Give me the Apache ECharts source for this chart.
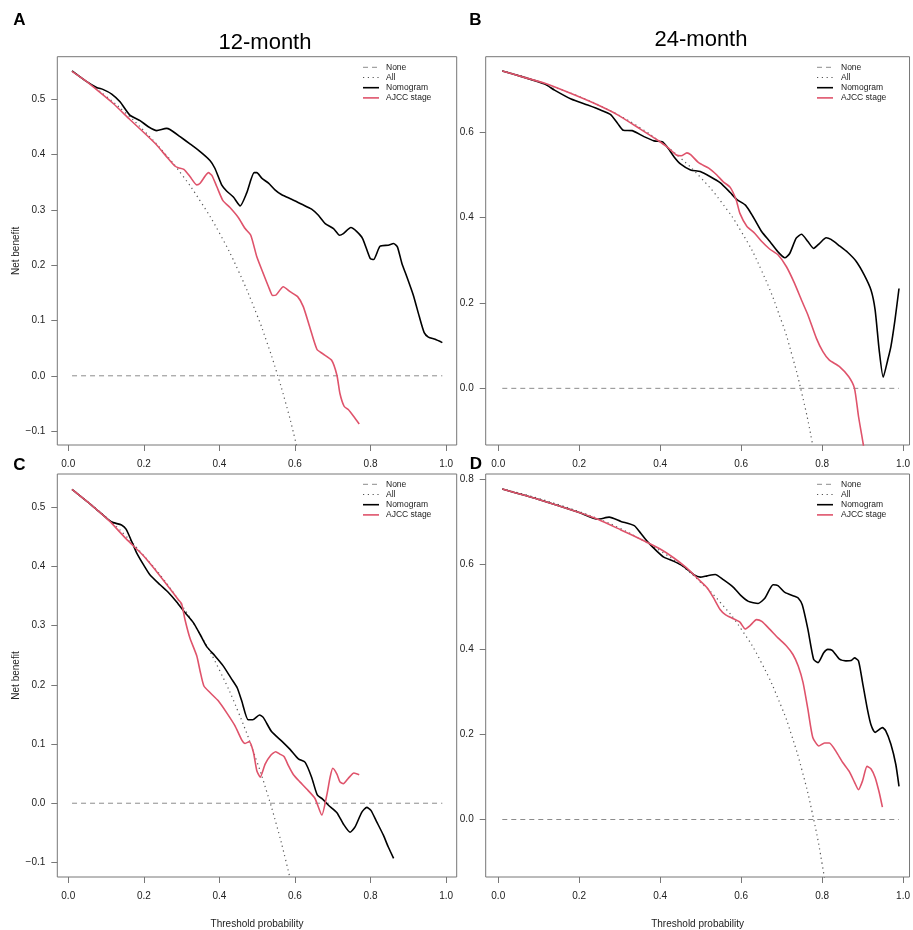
<!DOCTYPE html>
<html lang="en">
<head>
<meta charset="UTF-8"/>
<title>Decision curves</title>
<script src="https://cdn.jsdelivr.net/npm/echarts@6.0.0/dist/echarts.min.js"></script>
<style>
  body { margin: 0; background: #fff; }
  #main { width: 913px; height: 930px; }
</style>
</head>
<body>
<div id="main"></div>
<script type="text/javascript">
// tick labels
var thresholdTicks = [0, 0.2, 0.4, 0.6, 0.8, 1.0];
var yTicksA = [-0.1, 0, 0.1, 0.2, 0.3, 0.4, 0.5];
var yTicksB = [0, 0.2, 0.4, 0.6];
var yTicksC = [-0.1, 0, 0.1, 0.2, 0.3, 0.4, 0.5];
var yTicksD = [0, 0.2, 0.4, 0.6, 0.8];
var legendNames = ['None', 'All', 'Nomogram', 'AJCC stage'];
var panelTitles = ['12-month', '24-month'];
var panelLetters = ['A', 'B', 'C', 'D'];

// treat none
var noneLine = [[0.01, 0], [0.99, 0]];

// treat all  [threshold, net benefit]
var allA = [[0.01,0.550],[0.05,0.531],[0.10,0.505],[0.15,0.476],[0.20,0.443],[0.25,0.406],[0.30,0.364],[0.35,0.315],[0.40,0.258],[0.45,0.190],[0.50,0.109],[0.525,0.062],[0.55,0.010],[0.575,-0.048],[0.60,-0.114],[0.625,-0.188]];
var allB = [[0.01,0.744],[0.05,0.734],[0.10,0.719],[0.15,0.702],[0.20,0.684],[0.25,0.663],[0.30,0.639],[0.35,0.611],[0.40,0.578],[0.45,0.540],[0.50,0.494],[0.55,0.438],[0.60,0.368],[0.65,0.277],[0.70,0.157],[0.725,0.080],[0.75,-0.012],[0.775,-0.124],[0.80,-0.265]];
var allC = [[0.01,0.530],[0.05,0.510],[0.10,0.483],[0.15,0.453],[0.20,0.418],[0.25,0.380],[0.30,0.335],[0.35,0.284],[0.40,0.225],[0.45,0.154],[0.50,0.069],[0.525,0.020],[0.55,-0.034],[0.575,-0.095],[0.60,-0.163]];
var allD = [[0.01,0.777],[0.05,0.768],[0.10,0.755],[0.15,0.740],[0.20,0.724],[0.25,0.706],[0.30,0.685],[0.35,0.660],[0.40,0.632],[0.45,0.599],[0.50,0.558],[0.55,0.509],[0.60,0.448],[0.65,0.369],[0.70,0.264],[0.725,0.197],[0.75,0.117],[0.775,0.019],[0.80,-0.104],[0.825,-0.262]];

// nomogram
var nomoA = [[0.01,0.551],[0.05,0.531],[0.075,0.521],[0.093,0.517],[0.115,0.509],[0.137,0.495],[0.163,0.471],[0.19,0.461],[0.212,0.45],[0.234,0.443],[0.26,0.447],[0.269,0.445],[0.296,0.432],[0.322,0.419],[0.349,0.405],[0.375,0.389],[0.388,0.375],[0.406,0.345],[0.419,0.334],[0.437,0.323],[0.455,0.307],[0.472,0.33],[0.492,0.367],[0.499,0.367],[0.512,0.357],[0.53,0.348],[0.547,0.336],[0.565,0.327],[0.591,0.319],[0.618,0.31],[0.644,0.301],[0.662,0.29],[0.68,0.275],[0.702,0.266],[0.718,0.254],[0.728,0.257],[0.748,0.268],[0.763,0.261],[0.779,0.248],[0.799,0.212],[0.808,0.21],[0.825,0.234],[0.847,0.236],[0.861,0.239],[0.871,0.233],[0.883,0.203],[0.896,0.179],[0.913,0.146],[0.929,0.107],[0.942,0.078],[0.953,0.07],[0.971,0.066],[0.99,0.06]];
var nomoB = [[0.01,0.744],[0.06,0.73],[0.115,0.713],[0.139,0.699],[0.18,0.678],[0.221,0.664],[0.254,0.652],[0.277,0.642],[0.295,0.621],[0.309,0.605],[0.331,0.604],[0.36,0.59],[0.385,0.58],[0.405,0.578],[0.417,0.566],[0.434,0.543],[0.45,0.526],[0.475,0.512],[0.499,0.508],[0.524,0.496],[0.548,0.482],[0.573,0.459],[0.589,0.443],[0.61,0.43],[0.622,0.414],[0.634,0.395],[0.651,0.367],[0.671,0.344],[0.691,0.32],[0.708,0.306],[0.72,0.316],[0.736,0.352],[0.749,0.361],[0.765,0.344],[0.779,0.328],[0.794,0.34],[0.81,0.353],[0.822,0.349],[0.843,0.334],[0.863,0.319],[0.884,0.298],[0.904,0.266],[0.921,0.23],[0.931,0.184],[0.941,0.09],[0.951,0.026],[0.962,0.066],[0.97,0.098],[0.98,0.16],[0.99,0.234]];
var nomoC = [[0.01,0.53],[0.066,0.501],[0.106,0.479],[0.119,0.474],[0.141,0.47],[0.153,0.463],[0.168,0.442],[0.181,0.423],[0.199,0.403],[0.216,0.386],[0.243,0.369],[0.265,0.356],[0.287,0.34],[0.309,0.322],[0.331,0.305],[0.349,0.285],[0.366,0.265],[0.388,0.249],[0.41,0.232],[0.432,0.21],[0.447,0.195],[0.459,0.173],[0.476,0.141],[0.488,0.141],[0.506,0.149],[0.516,0.145],[0.538,0.121],[0.565,0.105],[0.587,0.091],[0.609,0.075],[0.627,0.069],[0.644,0.044],[0.659,0.014],[0.673,0.007],[0.688,-0.003],[0.711,-0.016],[0.728,-0.035],[0.746,-0.049],[0.759,-0.04],[0.777,-0.015],[0.79,-0.007],[0.801,-0.012],[0.816,-0.031],[0.834,-0.054],[0.847,-0.074],[0.861,-0.093]];
var nomoD = [[0.01,0.777],[0.098,0.753],[0.2,0.722],[0.246,0.706],[0.274,0.711],[0.303,0.701],[0.336,0.691],[0.352,0.673],[0.368,0.654],[0.393,0.63],[0.409,0.617],[0.434,0.607],[0.458,0.595],[0.483,0.576],[0.499,0.57],[0.516,0.573],[0.536,0.576],[0.556,0.564],[0.581,0.546],[0.599,0.527],[0.618,0.513],[0.642,0.508],[0.659,0.521],[0.679,0.552],[0.691,0.55],[0.708,0.534],[0.732,0.525],[0.741,0.521],[0.751,0.505],[0.765,0.447],[0.779,0.377],[0.79,0.369],[0.804,0.392],[0.814,0.4],[0.825,0.398],[0.843,0.377],[0.859,0.373],[0.872,0.374],[0.88,0.38],[0.89,0.373],[0.9,0.322],[0.912,0.259],[0.921,0.222],[0.931,0.205],[0.949,0.216],[0.957,0.209],[0.97,0.177],[0.982,0.13],[0.99,0.078]];

// AJCC stage
var ajccA = [[0.01,0.55],[0.05,0.531],[0.075,0.517],[0.119,0.492],[0.163,0.463],[0.207,0.435],[0.234,0.417],[0.26,0.396],[0.282,0.379],[0.291,0.376],[0.306,0.373],[0.322,0.36],[0.34,0.345],[0.349,0.348],[0.371,0.367],[0.38,0.362],[0.393,0.342],[0.409,0.317],[0.428,0.304],[0.45,0.286],[0.468,0.266],[0.483,0.254],[0.499,0.215],[0.516,0.185],[0.53,0.161],[0.541,0.145],[0.55,0.146],[0.569,0.161],[0.587,0.152],[0.607,0.143],[0.622,0.125],[0.64,0.086],[0.658,0.048],[0.673,0.04],[0.697,0.028],[0.711,0.001],[0.719,-0.032],[0.73,-0.055],[0.741,-0.061],[0.755,-0.073],[0.77,-0.087]];
var ajccB = [[0.01,0.744],[0.06,0.73],[0.115,0.715],[0.18,0.691],[0.237,0.668],[0.295,0.641],[0.352,0.607],[0.393,0.582],[0.417,0.566],[0.44,0.547],[0.452,0.545],[0.466,0.552],[0.476,0.547],[0.495,0.529],[0.52,0.516],[0.54,0.5],[0.556,0.484],[0.573,0.471],[0.588,0.441],[0.597,0.41],[0.614,0.38],[0.634,0.363],[0.651,0.344],[0.671,0.326],[0.691,0.313],[0.712,0.285],[0.732,0.246],[0.749,0.207],[0.765,0.172],[0.786,0.117],[0.802,0.086],[0.818,0.066],[0.843,0.051],[0.866,0.027],[0.88,0],[0.89,-0.066],[0.902,-0.133],[0.91,-0.19]];
var ajccC = [[0.01,0.53],[0.066,0.501],[0.11,0.476],[0.154,0.446],[0.199,0.418],[0.243,0.384],[0.278,0.355],[0.291,0.344],[0.3,0.337],[0.309,0.31],[0.322,0.279],[0.34,0.249],[0.349,0.223],[0.359,0.198],[0.375,0.187],[0.397,0.173],[0.419,0.153],[0.441,0.131],[0.459,0.107],[0.468,0.101],[0.479,0.104],[0.49,0.086],[0.499,0.055],[0.508,0.044],[0.521,0.066],[0.536,0.081],[0.549,0.087],[0.56,0.083],[0.571,0.079],[0.583,0.063],[0.596,0.048],[0.613,0.036],[0.631,0.024],[0.653,0.008],[0.671,-0.02],[0.684,0.013],[0.693,0.044],[0.7,0.059],[0.711,0.049],[0.719,0.036],[0.728,0.033],[0.741,0.042],[0.756,0.051],[0.77,0.048]];
var ajccD = [[0.01,0.777],[0.098,0.753],[0.2,0.722],[0.246,0.706],[0.303,0.681],[0.352,0.659],[0.4,0.636],[0.434,0.615],[0.466,0.591],[0.491,0.568],[0.516,0.545],[0.532,0.521],[0.548,0.494],[0.561,0.482],[0.581,0.472],[0.597,0.464],[0.61,0.448],[0.622,0.456],[0.638,0.47],[0.651,0.466],[0.671,0.447],[0.691,0.427],[0.712,0.408],[0.728,0.388],[0.741,0.361],[0.753,0.322],[0.765,0.259],[0.777,0.193],[0.792,0.173],[0.806,0.18],[0.818,0.18],[0.835,0.159],[0.851,0.134],[0.867,0.113],[0.88,0.088],[0.89,0.07],[0.9,0.091],[0.911,0.125],[0.921,0.119],[0.931,0.099],[0.941,0.064],[0.949,0.029]];

var FONT = 'Liberation Sans, Arial, Helvetica, sans-serif';
var BOX = '#777';
var TXT = '#222';
var RED = '#DF536B';

var styles = [
    { color: '#8c8c8c', width: 1, type: [5, 4] },
    { color: '#555', width: 1.2, type: [1.2, 3.6] },
    { color: '#000', width: 1.6, type: 'solid' },
    { color: RED, width: 1.6, type: 'solid' }
];

// panel boxes
var panels = [
    { left: 57.3, top: 56.7, width: 399.4, height: 388.3, xMin: -0.029, xMax: 1.028, yMin: -0.125, yMax: 0.5765, yTicks: yTicksA, curves: [noneLine, allA, nomoA, ajccA], yName: true, xName: false },
    { left: 485.7, top: 56.7, width: 426.6, height: 388.3, xMin: -0.031, xMax: 1.016, yMin: -0.1328, yMax: 0.7773, yTicks: yTicksB, curves: [noneLine, allB, nomoB, ajccB], yName: false, xName: false },
    { left: 57.3, top: 474, width: 399.4, height: 404.3, xMin: -0.029, xMax: 1.028, yMin: -0.1246, yMax: 0.5561, yTicks: yTicksC, curves: [noneLine, allC, nomoC, ajccC], yName: true, xName: true },
    { left: 485.7, top: 474, width: 426.6, height: 404.3, xMin: -0.031, xMax: 1.016, yMin: -0.1352, yMax: 0.8125, yTicks: yTicksD, curves: [noneLine, allD, nomoD, ajccD], yName: false, xName: true }
];

function fmt(v) {
    return (v < 0 ? '\u2212' : '') + Math.abs(v).toFixed(1);
}

var grids = [], xAxes = [], yAxes = [], series = [], graphics = [];

panels.forEach(function (p, i) {
    grids.push({ left: p.left, top: p.top, width: p.width, height: p.height,
        show: true, borderColor: BOX, borderWidth: 1, backgroundColor: 'transparent' });
    xAxes.push({
        type: 'value', gridIndex: i, min: p.xMin, max: p.xMax, position: 'bottom',
        name: p.xName ? 'Threshold probability' : '', nameLocation: 'middle', nameGap: 42,
        nameTextStyle: { fontFamily: FONT, fontSize: 10, color: TXT },
        axisLine: { show: false, onZero: false }, splitLine: { show: false },
        axisTick: { show: true, customValues: thresholdTicks, length: 6, lineStyle: { color: BOX } },
        axisLabel: { customValues: thresholdTicks, formatter: fmt, fontFamily: FONT, fontSize: 10, color: TXT, margin: 14 }
    });
    yAxes.push({
        type: 'value', gridIndex: i, min: p.yMin, max: p.yMax, position: 'left',
        name: p.yName ? 'Net benefit' : '', nameLocation: 'middle', nameGap: 36, nameRotate: 90,
        nameTextStyle: { fontFamily: FONT, fontSize: 10, color: TXT },
        axisLine: { show: false, onZero: false }, splitLine: { show: false },
        axisTick: { show: true, customValues: p.yTicks, length: 6, lineStyle: { color: BOX } },
        axisLabel: { customValues: p.yTicks, formatter: fmt, fontFamily: FONT, fontSize: 10, color: TXT, margin: 12 }
    });
    p.curves.forEach(function (data, k) {
        series.push({
            name: legendNames[k], type: 'line', xAxisIndex: i, yAxisIndex: i,
            data: data, showSymbol: false, symbol: 'none', clip: true,
            smooth: k === 1 ? true : (k >= 2 ? 0.2 : false),
            lineStyle: { color: styles[k].color, width: styles[k].width, type: styles[k].type },
            silent: true, animation: false
        });
    });
});

// legends inside each panel
var legendPos = [
    { x: 363, tx: 386, y: 67.3 },
    { x: 817, tx: 841, y: 67.3 },
    { x: 363, tx: 386, y: 484.3 },
    { x: 817, tx: 841, y: 484.3 }
];
legendPos.forEach(function (lp) {
    legendNames.forEach(function (nm, k) {
        var yy = lp.y + k * 10.2;
        graphics.push({ type: 'line', silent: true,
            shape: { x1: lp.x, y1: yy, x2: lp.x + 16, y2: yy },
            style: { stroke: styles[k].color, lineWidth: styles[k].width,
                lineDash: styles[k].type === 'solid' ? null : styles[k].type } });
        graphics.push({ type: 'text', silent: true,
            style: { x: lp.tx, y: yy, text: nm, fontFamily: FONT, fontSize: 8.5, fill: TXT,
                align: 'left', verticalAlign: 'middle' } });
    });
});

// titles and panel letters
graphics.push({ type: 'text', silent: true, style: { x: 265, y: 43, text: panelTitles[0], fontFamily: FONT, fontSize: 22, fill: '#000', align: 'center', verticalAlign: 'middle' } });
graphics.push({ type: 'text', silent: true, style: { x: 701, y: 40, text: panelTitles[1], fontFamily: FONT, fontSize: 22, fill: '#000', align: 'center', verticalAlign: 'middle' } });
var letterPos = [[19.5, 20.5], [475.5, 20.5], [19.5, 465.5], [476, 464]];
panelLetters.forEach(function (l, i) {
    graphics.push({ type: 'text', silent: true, z: 100,
        style: { x: letterPos[i][0], y: letterPos[i][1], text: l, fontFamily: FONT, fontSize: 17, fontWeight: 'bold', fill: '#000', align: 'center', verticalAlign: 'middle' } });
});

var myChart = echarts.init(document.getElementById('main'), null, { renderer: 'canvas' });
myChart.setOption({
    backgroundColor: '#fff',
    animation: false,
    grid: grids,
    xAxis: xAxes,
    yAxis: yAxes,
    series: series,
    graphic: graphics
});
</script>
</body>
</html>
